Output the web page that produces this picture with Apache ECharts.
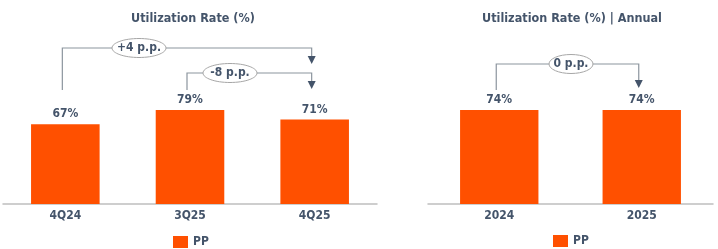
<!DOCTYPE html>
<html><head><meta charset="utf-8">
<script src="https://cdn.jsdelivr.net/npm/echarts@6/dist/echarts.min.js"></script>
<style>html,body{margin:0;padding:0;background:#fff}#c{width:718px;height:249px}</style>
</head><body><div id="c"></div>
<script>
const quarterCats = ['4Q24', '3Q25', '4Q25'];
const quarterVals = [67, 79, 71];
const annualCats = ['2024', '2025'];
const annualVals = [74, 74];
const seriesName = 'PP';
const titleLeft = 'Utilization Rate (%)';
const titleRight = 'Utilization Rate (%) | Annual';
// [grid index, from idx, to idx, label]
const quarterDeltas = [[0, 0, 2, '+4 p.p.'], [0, 1, 2, '-8 p.p.']];
const annualDeltas = [[1, 0, 1, '0 p.p.']];

const ORANGE = '#FF5000', TXT = '#44546A', LINE = '#8C959E';
const FONT = '"DejaVu Sans Condensed", "DejaVu Sans", sans-serif';
const chart = echarts.init(document.getElementById('c'));
const lbl = {show: true, position: 'top', distance: 4, formatter: '{c}%', color: TXT, fontWeight: 'bold', fontSize: 12, fontFamily: FONT};
const axisX = (cats, gi) => ({type: 'category', gridIndex: gi, data: cats,
  axisLine: {lineStyle: {color: '#BFBFBF', width: 1.5}}, axisTick: {show: false},
  axisLabel: {color: TXT, fontWeight: 'bold', fontSize: 12, fontFamily: FONT, margin: 6}});
const axisY = gi => ({type: 'value', gridIndex: gi, min: 0, max: 100, show: false});
const titleStyle = {color: TXT, fontWeight: 'bold', fontSize: 12.5, fontFamily: FONT};
const legendText = {color: TXT, fontWeight: 'bold', fontSize: 12, fontFamily: FONT};
chart.setOption({
  animation: false,
  title: [
    {text: titleLeft, left: 188, top: 7, textAlign: 'center', textStyle: titleStyle},
    {text: titleRight, left: 567, top: 7, textAlign: 'center', textStyle: titleStyle}
  ],
  legend: [
    {data: [seriesName], left: 168, top: 231, itemWidth: 15, itemHeight: 12, itemGap: 5, icon: 'rect', textStyle: legendText},
    {data: [seriesName], left: 548, top: 230, itemWidth: 15, itemHeight: 12, itemGap: 5, icon: 'rect', textStyle: legendText}
  ],
  grid: [
    {left: 3, width: 374, top: 85, bottom: 45},
    {left: 428, width: 285, top: 77, bottom: 45}
  ],
  xAxis: [axisX(quarterCats, 0), axisX(annualCats, 1)],
  yAxis: [axisY(0), axisY(1)],
  series: [
    {name: seriesName, type: 'bar', xAxisIndex: 0, yAxisIndex: 0, data: quarterVals, barWidth: '55%', itemStyle: {color: ORANGE}, label: lbl},
    {name: seriesName, type: 'bar', xAxisIndex: 1, yAxisIndex: 1, data: annualVals, barWidth: '55%', itemStyle: {color: ORANGE}, label: lbl}
  ]
});

// bracket annotations, positioned via the axes
const levels = {'+4 p.p.': 48, '-8 p.p.': 73, '0 p.p.': 64};
const gfx = [];
function px(gi, idx, val) {
  return chart.convertToPixel({xAxisIndex: gi, yAxisIndex: gi}, [idx, val]);
}
function addBracket(d, cats, vals) {
  const [gi, a, b, text] = d;
  const pa = px(gi, a, vals[a]), pb = px(gi, b, vals[b]);
  const xa = pa[0] - 3, xb = pb[0] - 3;
  const yTop = levels[text];
  const ya = Math.min(pa[1] - 20, 90);
  const yb = Math.min(pb[1] - 22, text === '-8 p.p.' ? 89 : 90);
  const tip = text === '+4 p.p.' ? 64 : yb;
  gfx.push({type: 'polyline', shape: {points: [[xa, ya], [xa, yTop], [xb, yTop], [xb, tip - 7]]}, style: {stroke: LINE, lineWidth: 1.2, fill: null}, z: 10});
  gfx.push({type: 'polygon', shape: {points: [[xb - 4, tip - 8], [xb + 4, tip - 8], [xb, tip]]}, style: {fill: TXT}, z: 11});
  const cx = text === '+4 p.p.' ? 139 : (text === '-8 p.p.' ? 230 : 571);
  const rx = text === '0 p.p.' ? 22 : 27;
  gfx.push({type: 'ellipse', shape: {cx: cx, cy: yTop, rx: rx, ry: 9.5}, style: {fill: '#fff', stroke: '#A6A6A6', lineWidth: 1}, z: 12});
  gfx.push({type: 'text', x: cx, y: yTop, style: {text: text, fill: TXT, font: 'bold 12px ' + FONT, align: 'center', verticalAlign: 'middle'}, z: 13});
}
quarterDeltas.forEach(d => addBracket(d, quarterCats, quarterVals));
annualDeltas.forEach(d => addBracket(d, annualCats, annualVals));
chart.setOption({graphic: gfx});
</script></body></html>
